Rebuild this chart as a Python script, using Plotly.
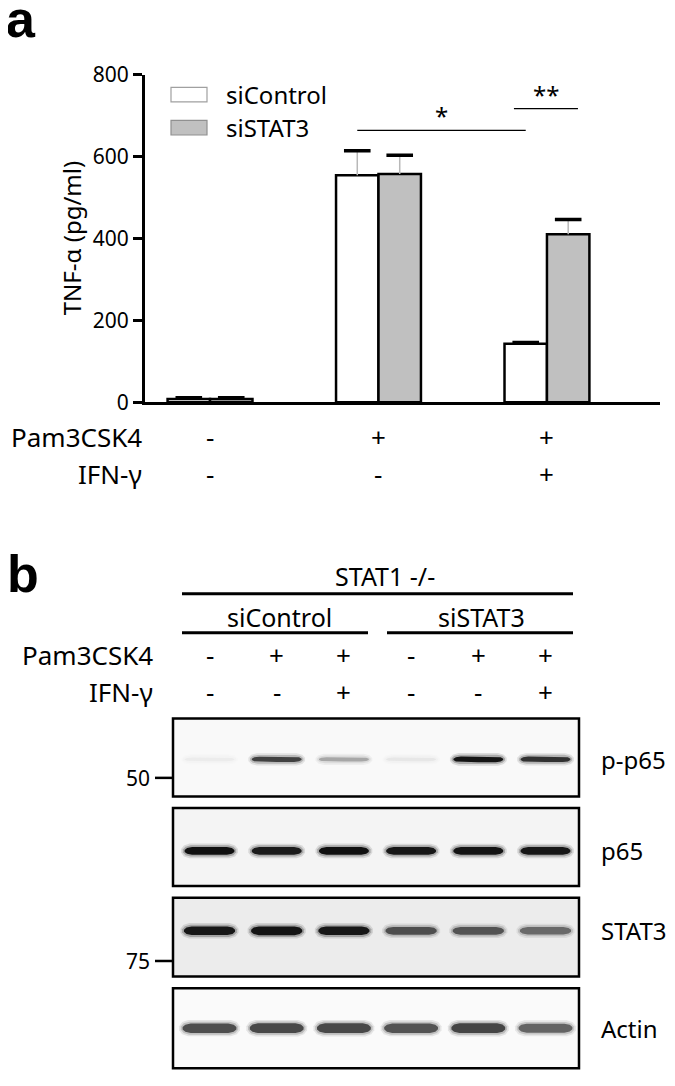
import plotly.graph_objects as go

# the page body has an 8px margin, so the figure is sized to fill the rest of the window
OFF = 8
W, H = 675 - OFF, 1086 - OFF

# ---- panel a : TNF-alpha ELISA ----
groups = [0, 1, 2]
pam_a = ['-', '+', '+']
ifn_a = ['-', '-', '+']
sicontrol_mean = [8, 554, 143]
sicontrol_sem = [3, 60, 3]
sistat3_mean = [8, 557, 410]
sistat3_sem = [3, 46, 36]
y_ticks = [0, 200, 400, 600, 800]

# significance brackets (group units / pg/ml)
sig_text = ['*', '**']
sig_x0 = [0.874, 1.804]
sig_x1 = [1.874, 2.184]
sig_y = [664, 717]

# ---- panel b : western blot ----
lanes = [0, 1, 2, 3, 4, 5]
pam_b = ['-', '+', '+', '-', '+', '+']
ifn_b = ['-', '-', '+', '-', '-', '+']
blot_names = ['p-p65', 'p65', 'STAT3', 'Actin']
band_pp65 = [0.01, 0.78, 0.32, 0.03, 0.98, 0.85]
band_p65 = [1.0, 0.95, 1.0, 0.97, 0.98, 0.97]
band_stat3 = [0.97, 0.98, 0.97, 0.72, 0.70, 0.60]
band_actin = [0.72, 0.75, 0.75, 0.70, 0.76, 0.62]
mw_labels = ['50', '75']

FONT = 'Noto Sans'


def fx(p):
    return (p - OFF) / W


def fy(p):
    return 1 - (p - OFF) / H


fig = go.Figure()

# bars
bw = 0.252
fig.add_trace(go.Bar(x=groups, y=sicontrol_mean, width=bw, offset=-bw, name='siControl',
                     marker=dict(color='white', line=dict(color='black', width=2.5)),
                     error_y=dict(type='data', symmetric=False, array=sicontrol_sem,
                                  arrayminus=[0, 0, 0], color='#b8b8b8', thickness=1.5, width=0),
                     showlegend=False))
fig.add_trace(go.Bar(x=groups, y=sistat3_mean, width=bw, offset=0, name='siSTAT3',
                     marker=dict(color='#c0c0c0', line=dict(color='black', width=2.5)),
                     error_y=dict(type='data', symmetric=False, array=sistat3_sem,
                                  arrayminus=[0, 0, 0], color='#b8b8b8', thickness=1.5, width=0),
                     showlegend=False))
# error caps
fig.add_trace(go.Scatter(x=[g - bw / 2 for g in groups] + [g + bw / 2 for g in groups],
                         y=[m + s for m, s in zip(sicontrol_mean, sicontrol_sem)] +
                           [m + s for m, s in zip(sistat3_mean, sistat3_sem)],
                         mode='markers', showlegend=False, hoverinfo='skip',
                         marker=dict(symbol='line-ew', size=19, line=dict(width=3.5, color='black'))))
# significance lines
for t, a, b, y in zip(sig_text, sig_x0, sig_x1, sig_y):
    fig.add_trace(go.Scatter(x=[a, b], y=[y, y], mode='lines', showlegend=False,
                             line=dict(color='black', width=1.3), hoverinfo='skip'))
    fig.add_annotation(x=(a + b) / 2, y=y, xref='x', yref='y', text=t, showarrow=False,
                       xanchor='center', yanchor='bottom', yshift=-4,
                       font=dict(size=24, color='black'))

# manual legend
leg = [('siControl', 'white', '#a0a0a0', 74, 89), ('siSTAT3', '#c0c0c0', '#909090', 108, 123)]
for name, fc, lc, t, b in leg:
    fig.add_shape(type='rect', xref='paper', yref='paper', x0=fx(171), x1=fx(207),
                  y0=fy(b), y1=fy(t), fillcolor=fc, line=dict(color=lc, width=1.2))
    fig.add_annotation(x=fx(224), y=fy((t + b) / 2), xref='paper', yref='paper', text=name,
                       showarrow=False, xanchor='left', yanchor='middle',
                       font=dict(size=24, color='black'))

# treatment rows panel a
for lab, vals, yy in [('Pam3CSK4', pam_a, 433), ('IFN-γ', ifn_a, 471)]:
    fig.add_annotation(x=fx(144), y=fy(yy), xref='paper', yref='paper', text=lab,
                       showarrow=False, xanchor='right', yanchor='middle',
                       font=dict(size=26, color='black'))
    for g, v in zip(groups, vals):
        fig.add_annotation(x=g, y=fy(yy), xref='x', yref='paper', text=v, showarrow=False,
                           xanchor='center', yanchor='middle', font=dict(size=26, color='black'))

# y title
fig.add_annotation(x=fx(71), y=fy(229), xref='paper', yref='paper', text='TNF-α (pg/ml)',
                   textangle=-90, showarrow=False, xanchor='center', yanchor='middle',
                   font=dict(size=24, color='black'))

# panel letters
fig.add_annotation(x=fx(21), y=fy(4), xref='paper', yref='paper', text='<b>a</b>', showarrow=False,
                   xanchor='center', yanchor='middle',
                   font=dict(size=52, family='Liberation Sans', color='black'))
fig.add_annotation(x=fx(23), y=fy(574), xref='paper', yref='paper', text='<b>b</b>', showarrow=False,
                   xanchor='center', yanchor='middle',
                   font=dict(size=52, family='Liberation Sans', color='black'))

# ---- panel b drawing ----
lane_px0, lane_step = 209.5, 67.2


def lx(p):
    return (p - lane_px0) / lane_step


row_y = [764, 858, 940, 1040]
box_top = [722, 814, 906, 999]
box_bot = [802, 894, 987, 1081]
box_fill = ['#f9f9f9', '#f4f4f4', '#ececec', '#fafafa']
band_half_t = [3.0, 4.0, 4.5, 5.5]
band_half_w = [0.37, 0.37, 0.38, 0.40]
blots = [band_pp65, band_p65, band_stat3, band_actin]

for i in range(4):
    fig.add_shape(type='rect', xref='x2', yref='y2', x0=lx(173), x1=lx(579),
                  y0=box_top[i], y1=box_bot[i], fillcolor=box_fill[i],
                  line=dict(color='black', width=2.5), layer='below')

u = [-1, -0.9, -0.7, 0, 0.7, 0.9, 1]
f = [0.25, 0.75, 1, 1, 1, 0.75, 0.25]
for i, vals in enumerate(blots):
    for ln, inten in zip(lanes, vals):
        g = int(round(238 - 222 * inten))
        # soft edge layers then the core
        for extra, op in [(3.5, 0.12), (1.8, 0.25), (0, 1.0)]:
            ht = band_half_t[i] * (0.6 + 0.4 * inten) + extra
            hw = band_half_w[i] + extra / lane_step
            xs = [ln + k * hw for k in u] + [ln + k * hw for k in u[::-1]]
            ys = [row_y[i] - ff * ht for ff in f] + [row_y[i] + ff * ht for ff in f[::-1]]
            fig.add_trace(go.Scatter(x=xs, y=ys, xaxis='x2', yaxis='y2', mode='lines',
                                     fill='toself', line=dict(width=0),
                                     fillcolor='rgba(%d,%d,%d,%.2f)' % (g, g, g, op),
                                     showlegend=False, hoverinfo='skip'))
    fig.add_annotation(x=fx(599), y=row_y[i], xref='paper', yref='y2', text=blot_names[i],
                       showarrow=False, xanchor='left', yanchor='middle',
                       font=dict(size=24, color='black'))

# MW markers
for lab, yy in zip(mw_labels, [783, 971]):
    fig.add_shape(type='line', xref='paper', yref='y2', x0=fx(155), x1=fx(173), y0=yy, y1=yy,
                  line=dict(color='black', width=2.5))
    fig.add_annotation(x=fx(152), y=yy, xref='paper', yref='y2', text=lab, showarrow=False,
                       xanchor='right', yanchor='middle', font=dict(size=21, color='black'))

# header lines and labels
for a, b, yy in [(182, 573, 594), (182, 368, 634), (387, 573, 634)]:
    fig.add_shape(type='line', xref='x2', yref='y2', x0=lx(a), x1=lx(b), y0=yy, y1=yy,
                  line=dict(color='black', width=3))
for txt, xp, yy in [('STAT1 -/-', 385, 576), ('siControl', 279.5, 618), ('siSTAT3', 481, 618)]:
    fig.add_annotation(x=lx(xp), y=yy, xref='x2', yref='y2', text=txt, showarrow=False,
                       xanchor='center', yanchor='middle', font=dict(size=25, color='black'))

for lab, vals, yy in [('Pam3CSK4', pam_b, 657), ('IFN-γ', ifn_b, 695)]:
    fig.add_annotation(x=fx(155), y=yy, xref='paper', yref='y2', text=lab, showarrow=False,
                       xanchor='right', yanchor='middle', font=dict(size=26, color='black'))
    for ln, v in zip(lanes, vals):
        fig.add_annotation(x=ln, y=yy, xref='x2', yref='y2', text=v, showarrow=False,
                           xanchor='center', yanchor='middle', font=dict(size=26, color='black'))

fig.update_layout(
    width=W, height=H,
    margin=dict(l=0, r=0, t=0, b=0),
    paper_bgcolor='white', plot_bgcolor='rgba(0,0,0,0)',
    font=dict(family=FONT, color='black'),
    barmode='overlay',
    xaxis=dict(domain=[fx(145), fx(660)], range=[-0.386, 2.671], anchor='y',
               showline=True, linewidth=3, linecolor='black', ticks='',
               showticklabels=False, showgrid=False, zeroline=False),
    yaxis=dict(domain=[fy(397.3), fy(61)], range=[0, 800], anchor='x', tickvals=y_ticks,
               showline=True, linewidth=3, linecolor='black', ticks='outside', ticklen=9,
               tickwidth=3, tickcolor='black', tickfont=dict(size=21, color='black'),
               showgrid=False, zeroline=False),
    xaxis2=dict(domain=[0, 1], range=[lx(OFF), lx(675)], anchor='y2', visible=False),
    yaxis2=dict(domain=[0, 1], range=[1086, OFF], anchor='x2', visible=False),
)

fig.write_html("out.html")
